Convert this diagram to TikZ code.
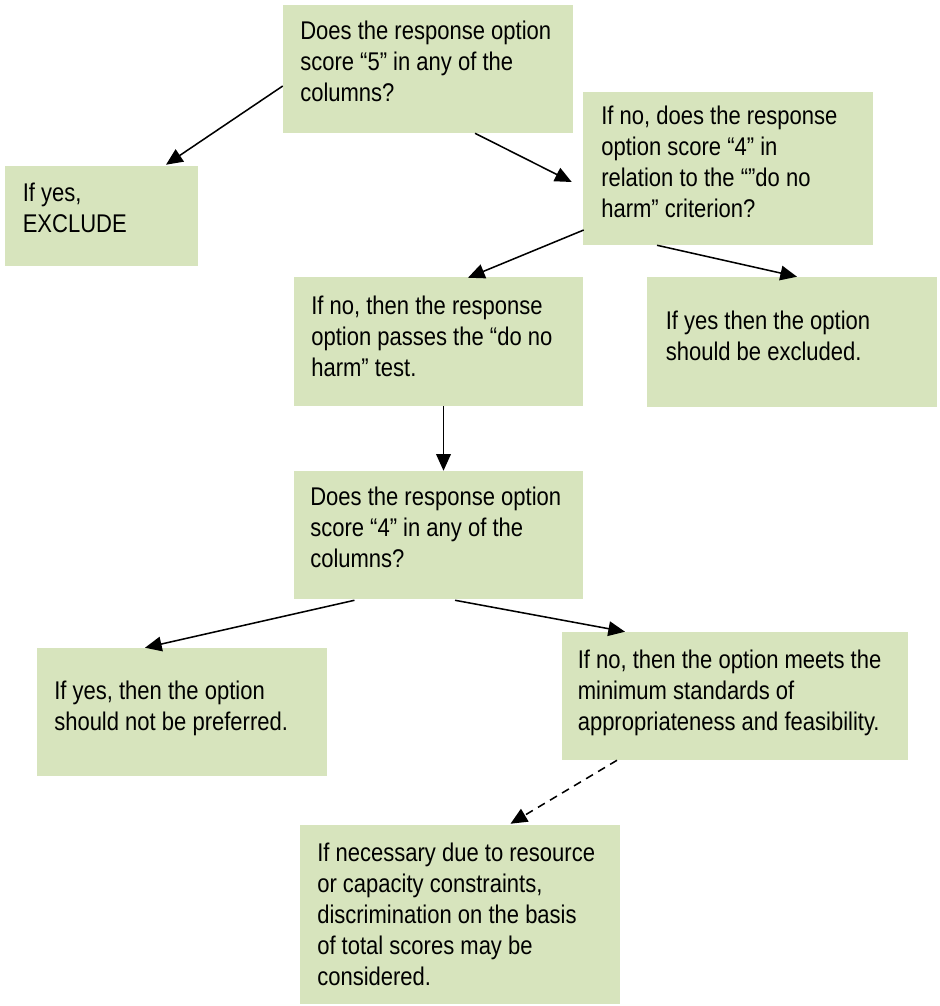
\documentclass[tikz,border=0pt]{standalone}
\usepackage{fontspec}
\setmainfont{Liberation Sans}[FakeStretch=0.86]
\usetikzlibrary{arrows.meta,fit,calc}
\definecolor{boxgreen}{HTML}{D7E4BD}
\begin{document}
\begin{tikzpicture}[x=0.75pt,y=-0.75pt,
  gbox/.style={fill=boxgreen,draw=none,inner sep=0pt},
  txt/.style={anchor=north west,inner sep=0pt,align=left,font=\fontsize{19.2}{23.25}\selectfont},
  arr/.style={draw,line width=1.15pt,-{Triangle[length=12.5pt,width=11pt]}},
  darr/.style={arr,dash pattern=on 6pt off 4.5pt}]
\useasboundingbox (0,0) rectangle (939,1006);
% boxes
\node[gbox,fit={(283,5) (573,133)}] (q1) {};
\node[gbox,fit={(583,92) (873,245)}] (q2) {};
\node[gbox,fit={(5,166) (198,266)}] (e1) {};
\node[gbox,fit={(294,277) (583,406)}] (p1) {};
\node[gbox,fit={(647,277) (937,407)}] (x1) {};
\node[gbox,fit={(294,471) (583,599)}] (q3) {};
\node[gbox,fit={(37,648) (327,776)}] (n1) {};
\node[gbox,fit={(562,632) (908,760)}] (m1) {};
\node[gbox,fit={(300,825) (620,1004)}] (d1) {};
% texts
\node[txt] (q1t) at (300,21) {Does the response option\\score “5” in any of the\\columns?};
\node[txt] (q2t) at (601,106) {If no, does the response\\option score “4” in\\relation to the “”do no\\harm” criterion?};
\node[txt] (e1t) at (22.5,183) {If yes,\\EXCLUDE};
\node[txt] (p1t) at (311,296) {If no, then the response\\option passes the “do no\\harm” test.};
\node[txt] (x1t) at (665.5,311) {If yes then the option\\should be excluded.};
\node[txt] (q3t) at (310,487) {Does the response option\\score “4” in any of the\\columns?};
\node[txt] (n1t) at (54,681) {If yes, then the option\\should not be preferred.};
\node[txt] (m1t) at (577.5,650) {If no, then the option meets the\\minimum standards of\\appropriateness and feasibility.};
\node[txt] (d1t) at (317,843) {If necessary due to resource\\or capacity constraints,\\discrimination on the basis\\of total scores may be\\considered.};
% connectors
\draw[arr] ($(q1.west)+(0,17)$) -- ($(e1.north)+(64.5,-1)$);
\draw[arr] ($(q1.south)+(47,0)$) -- ($(q2.west)+(-11,13.5)$);
\draw[arr] ($(q2.west)+(1,61.5)$) -- ($(p1.north)+(29.5,1)$);
\draw[arr] ($(q2.south)+(-71,0)$) -- ($(x1.north)+(5,0)$);
\draw[arr] ($(p1.south)+(5,0)$) -- ($(q3.north)+(5,0)$);
\draw[arr] ($(q3.south)+(-84,1)$) -- ($(n1.north)+(-37,0)$);
\draw[arr] ($(q3.south)+(16.5,1)$) -- ($(m1.north)+(-110,0)$);
\draw[darr] ($(m1.south)+(-118,0)$) -- ($(d1.north)+(50.5,-1)$);
\end{tikzpicture}
\end{document}
